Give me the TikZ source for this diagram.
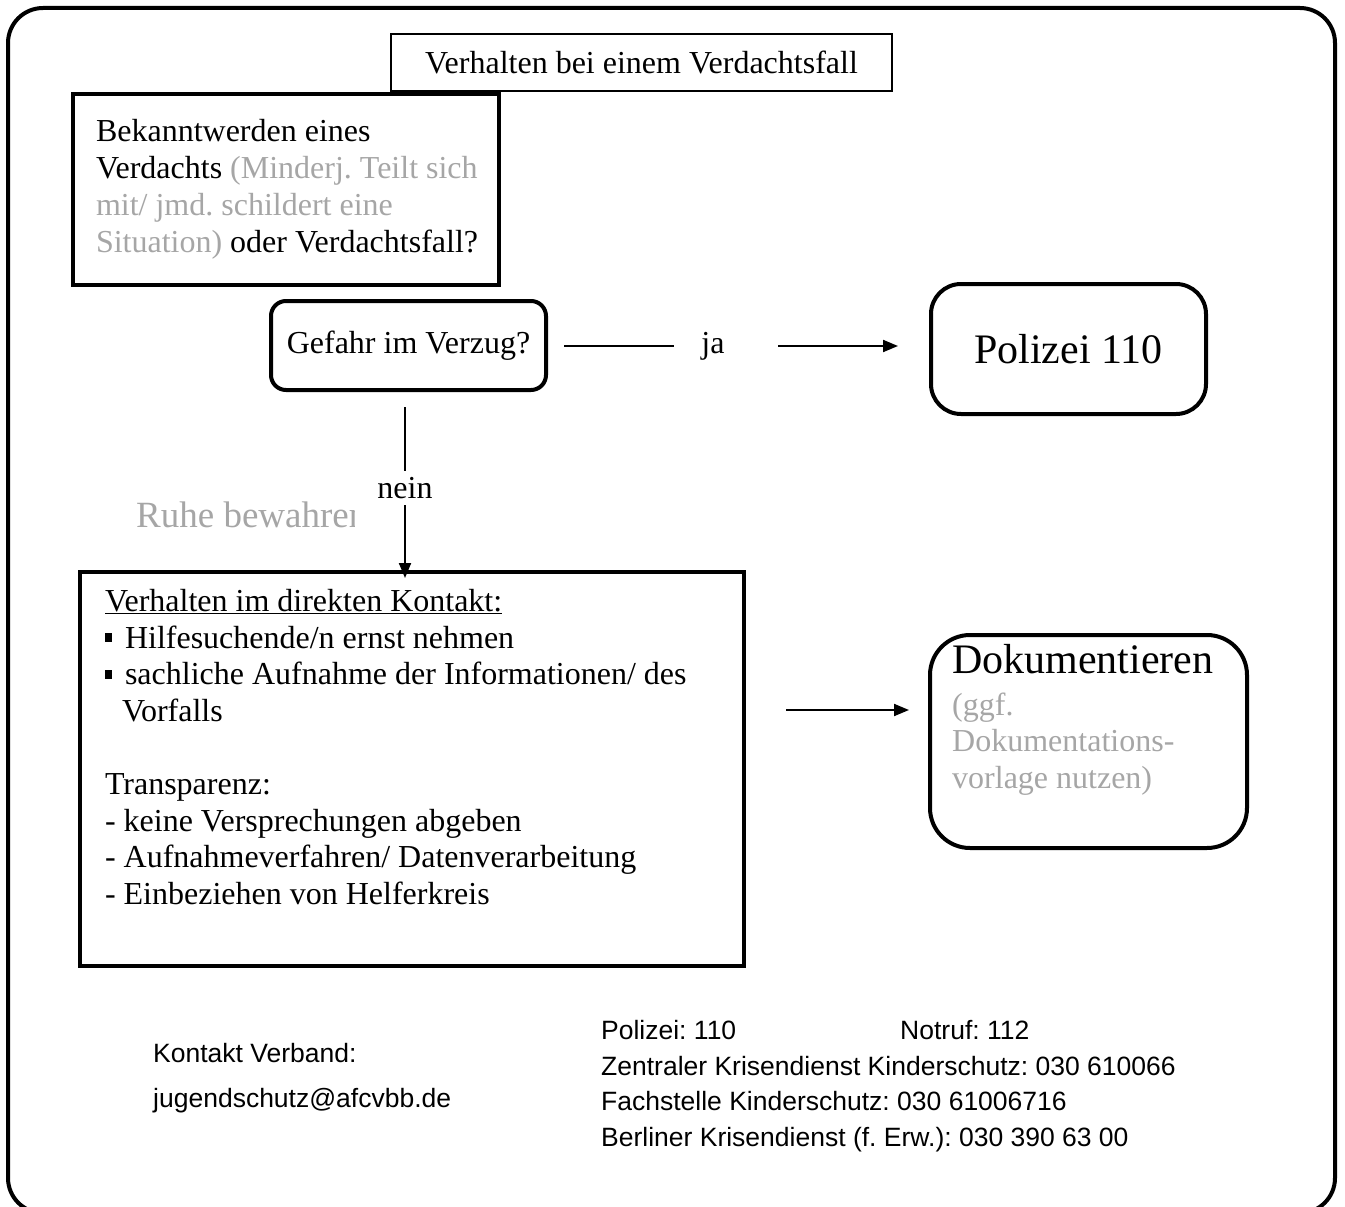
\documentclass[tikz,border=0pt]{standalone}
\usepackage{fontspec}
\setmainfont{Liberation Serif}
\newfontfamily\sansfam{Liberation Sans}
\usetikzlibrary{arrows.meta,calc}
\definecolor{greytxt}{HTML}{A6A6A6}
\frenchspacing
\newcommand\mybul{\raisebox{6pt}{\rule{7pt}{9pt}}\hspace{13pt}}
\newcommand\normsp{\spaceskip=0pt\relax\xspaceskip=0pt\relax\frenchspacing}
\begin{document}
\begin{tikzpicture}[x=1pt,y=-1pt,
  body/.style={font=\fontsize{32}{37}\selectfont},
  sqbox/.style={draw, line width=4pt},
  rbox/.style={draw, line width=4pt, rounded corners=#1},
  conn/.style={line width=2pt},
  arr/.style={line width=2pt, -{Triangle[length=15pt,width=12pt]}},
  sanstxt/.style={anchor=base west, inner sep=0pt, font=\sansfam\fontsize{26.5}{30}\selectfont}]
\useasboundingbox (0,0) rectangle (1345,1207);
% outer frame
\draw[line width=4pt, rounded corners=35pt] (8,8) rectangle (1335,1213);
% title
\node[draw, line width=2pt, minimum width=501pt, minimum height=57pt, inner sep=0pt, body]
  (title) at (641.5,62.5) {Verhalten bei einem Verdachtsfall};
% box 1
\node[sqbox, minimum width=426pt, minimum height=191pt, text width=380pt, inner xsep=23pt,
  align=left, body] (b1) at (286,189.5)
  {\normsp\mbox{Bekanntwerden eines}\\
   \mbox{Verdachts \textcolor{greytxt}{(Minderj. Teilt sich}}\\
   \mbox{\textcolor{greytxt}{mit/ jmd. schildert eine}}\\
   \mbox{\textcolor{greytxt}{Situation)} oder Verdachtsfall?}};
% Gefahr
\node[rbox=15pt, minimum width=275pt, minimum height=89pt, inner sep=0pt, body]
  (gefahr) at (408.5,345.5) {Gefahr im Verzug?};
% Polizei
\node[rbox=30pt, minimum width=275pt, minimum height=130pt, inner sep=0pt,
  font=\fontsize{42}{48}\selectfont] (polizei) at (1068.5,349) {Polizei 110};
% ja connector
\coordinate (jaL) at (674,346);
\coordinate (jaR) at (778,346);
\draw[conn] ([xshift=16pt]gefahr.east |- jaL) -- (jaL);
\node[inner sep=0pt, body] (ja) at (713,346) {ja};
\draw[arr] (jaR) -- ([xshift=-31pt]polizei.west |- jaR);
% Ruhe bewahren (clipped)
\begin{scope}
  \clip (100,480) rectangle (354,560);
  \node[anchor=base west, inner sep=0pt, text=greytxt, font=\fontsize{37}{40}\selectfont]
    (ruhe) at (136,527) {Ruhe bewahren};
\end{scope}
% box 3
\node[sqbox, minimum height=394pt, text width=614pt, inner xsep=25pt, align=left,
  font=\fontsize{32}{36.6}\selectfont] (box3) at (412,769)
  {\normsp\underline{Verhalten im direkten Kontakt:}\\
   \mybul Hilfesuchende/n ernst nehmen\\
   \mybul sachliche Aufnahme der Informationen/ des\\
   \hspace*{17pt}Vorfalls\\
   \mbox{}\\
   Transparenz:\\
   - keine Versprechungen abgeben\\
   - Aufnahmeverfahren/ Datenverarbeitung\\
   - Einbeziehen von Helferkreis\\[8pt]
   \mbox{}};
% nein connector
\draw[arr] ([xshift=-3.5pt,yshift=-15pt]gefahr.south)
  -- node[pos=0.474, fill=white, inner xsep=2pt, inner ysep=6.5pt, body] (nein) {nein}
  ([xshift=-3.5pt,yshift=-8pt]gefahr.south |- box3.north);
% Dokumentieren
\node[rbox=40pt, minimum width=317pt, minimum height=213pt, inner sep=0pt]
  (doku) at (1088.5,741.5) {};
\node[anchor=north west, inner sep=0pt, align=left, font=\fontsize{32}{36.5}\selectfont]
  (dokutext) at (952,644.5)
  {\normsp{\fontsize{42}{42}\selectfont Dokumentieren}\\[5pt]
   \textcolor{greytxt}{(ggf.}\\
   \textcolor{greytxt}{Dokumentations-}\\
   \textcolor{greytxt}{vorlage nutzen)}};
\draw[arr] ($(box3.east |- 0,710)+(40,0)$) -- ($(doku.west |- 0,710)+(-19,0)$);
% contacts
\node[sanstxt] (kv) at (153,1062) {Kontakt Verband:};
\node[sanstxt] (mail) at (153,1107) {jugendschutz@afcvbb.de};
\node[sanstxt] (pol) at (601,1039) {Polizei: 110};
\node[sanstxt] (notruf) at (900,1039) {Notruf: 112};
\node[sanstxt] (zk) at (601,1075) {Zentraler Krisendienst Kinderschutz: 030 610066};
\node[sanstxt] (fk) at (601,1110) {Fachstelle Kinderschutz: 030 61006716};
\node[sanstxt] (bk) at (601,1146) {Berliner Krisendienst (f. Erw.): 030 390 63 00};
\end{tikzpicture}
\end{document}
